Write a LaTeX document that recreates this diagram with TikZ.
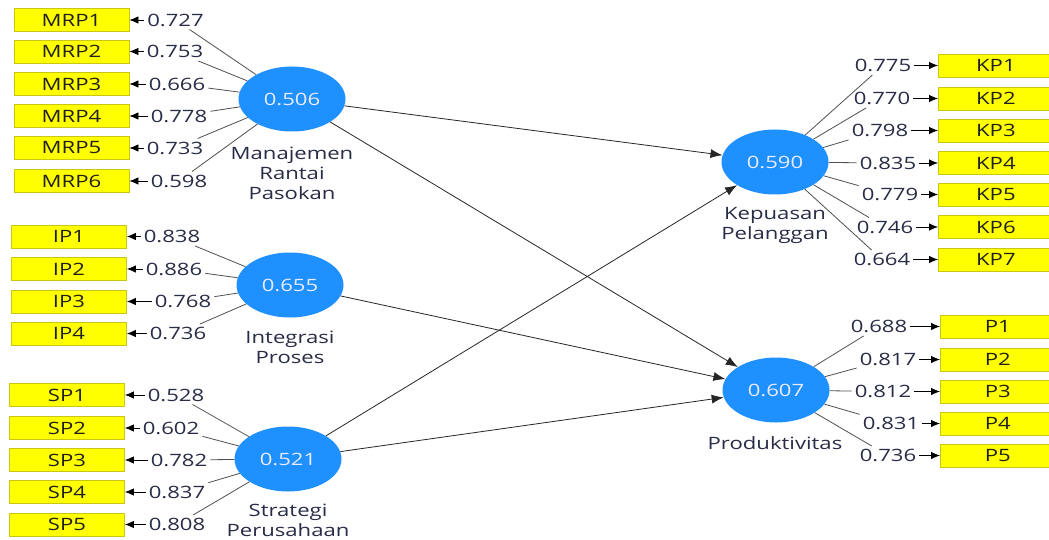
\documentclass[tikz,border=0pt]{standalone}
\usepackage{fontspec}
\setmainfont[FakeStretch=1.3]{Open Sans}
\usetikzlibrary{shapes.geometric,arrows.meta}
\definecolor{lvblue}{RGB}{30,144,255}
\definecolor{boxy}{RGB}{255,255,0}
\definecolor{boxb}{RGB}{200,200,20}
\definecolor{numc}{RGB}{40,44,70}
\definecolor{lnc}{RGB}{80,80,80}
\begin{document}
\begin{tikzpicture}[x=1pt,y=-1pt,
  font=\fontsize{17}{20}\selectfont,
  lat/.style={ellipse, fill=lvblue, minimum width=107pt, minimum height=65pt, inner sep=0pt, text=white!92!blue},
  ind/.style={rectangle, draw=boxb, line width=0.8pt, fill=boxy, minimum width=115pt, minimum height=23pt, inner sep=0pt, text=black!88},
  indr/.style={ind, anchor=west, minimum width=125pt},
  ld/.style={inner sep=3pt, text=numc},
  latlab/.style={align=center, text=numc},
  load/.style={draw=lnc, line width=0.8pt},
  tip/.style={-{Latex[length=9pt,width=7.5pt]}, black, line width=0.8pt},
  path/.style={-{Latex[length=12pt,width=9pt]}, black!85, line width=0.8pt}]
\useasboundingbox (0,0) rectangle (1049,540);
\fill[white] (0,0) rectangle (1049,540);

% latent variables
\node[lat] (MRP) at (292,99) {0.506};
\node[lat] (IP) at (290,285) {0.655};
\node[lat] (SP) at (288,459) {0.521};
\node[lat] (KP) at (775,162) {0.590};
\node[lat] (PR) at (776,390) {0.607};

\node[latlab] (tMRP) at (292,173) {Manajemen\\Rantai\\Pasokan};
\node[latlab] (tIP) at (290,347) {Integrasi\\Proses};
\node[latlab] (tSP) at (288,520) {Strategi\\Perusahaan};
\node[latlab] (tKP) at (775,225) {Kepuasan\\Pelanggan};
\node[latlab] (tPR) at (775,443) {Produktivitas};

% structural paths
\draw[path] (MRP) -- (KP);
\draw[path] (MRP) -- (PR);
\draw[path] (IP) -- (PR);
\draw[path] (SP) -- (KP);
\draw[path] (SP) -- (PR);

% MRP indicators
\foreach \i/\y/\lx/\v in {1/20/175.5/0.727, 2/51.5/175/0.753, 3/84/177/0.666, 4/116/179/0.778, 5/148/175/0.733, 6/181/179/0.598}{
  \node[ind] (MRP\i) at (71.5,\y) {MRP\i};
  \node[ld] (lMRP\i) at (\lx,\y) {\v};
  \draw[load] (MRP) -- (lMRP\i);
  \draw[tip] (lMRP\i) -- (MRP\i);
}
% IP indicators
\foreach \i/\y/\lx/\v in {1/236.5/172/0.838, 2/269/174/0.886, 3/301.5/183/0.768, 4/333.5/178/0.736}{
  \node[ind] (IP\i) at (69,\y) {IP\i};
  \node[ld] (lIP\i) at (\lx,\y) {\v};
  \draw[load] (IP) -- (lIP\i);
  \draw[tip] (lIP\i) -- (IP\i);
}
% SP indicators
\foreach \i/\y/\lx/\v in {1/395/176/0.528, 2/428/171/0.602, 3/460/179/0.782, 4/492/177/0.837, 5/524.5/177/0.808}{
  \node[ind] (SP\i) at (67,\y) {SP\i};
  \node[ld] (lSP\i) at (\lx,\y) {\v};
  \draw[load] (SP) -- (lSP\i);
  \draw[tip] (lSP\i) -- (SP\i);
}
% KP indicators
\foreach \i/\y/\lx/\v in {1/65.5/883/0.775, 2/98.5/882/0.770, 3/130.5/880/0.798, 4/163/888/0.835, 5/194.5/890/0.779, 6/227/885/0.746, 7/259.5/882/0.664}{
  \node[indr] (KP\i) at (938,\y) {\hspace*{-10pt}KP\i};
  \node[ld] (lKP\i) at (\lx,\y) {\v};
  \draw[load] (KP) -- (lKP\i);
  \draw[tip] (lKP\i) -- (KP\i);
}
% P indicators
\foreach \i/\y/\lx/\v in {1/326.5/879/0.688, 2/359.5/888/0.817, 3/391.5/883/0.812, 4/423.5/891/0.831, 5/455.5/888/0.736}{
  \node[indr] (P\i) at (940,\y) {\hspace*{-10pt}P\i};
  \node[ld] (lP\i) at (\lx,\y) {\v};
  \draw[load] (PR) -- (lP\i);
  \draw[tip] (lP\i) -- (P\i);
}
\end{tikzpicture}
\end{document}
